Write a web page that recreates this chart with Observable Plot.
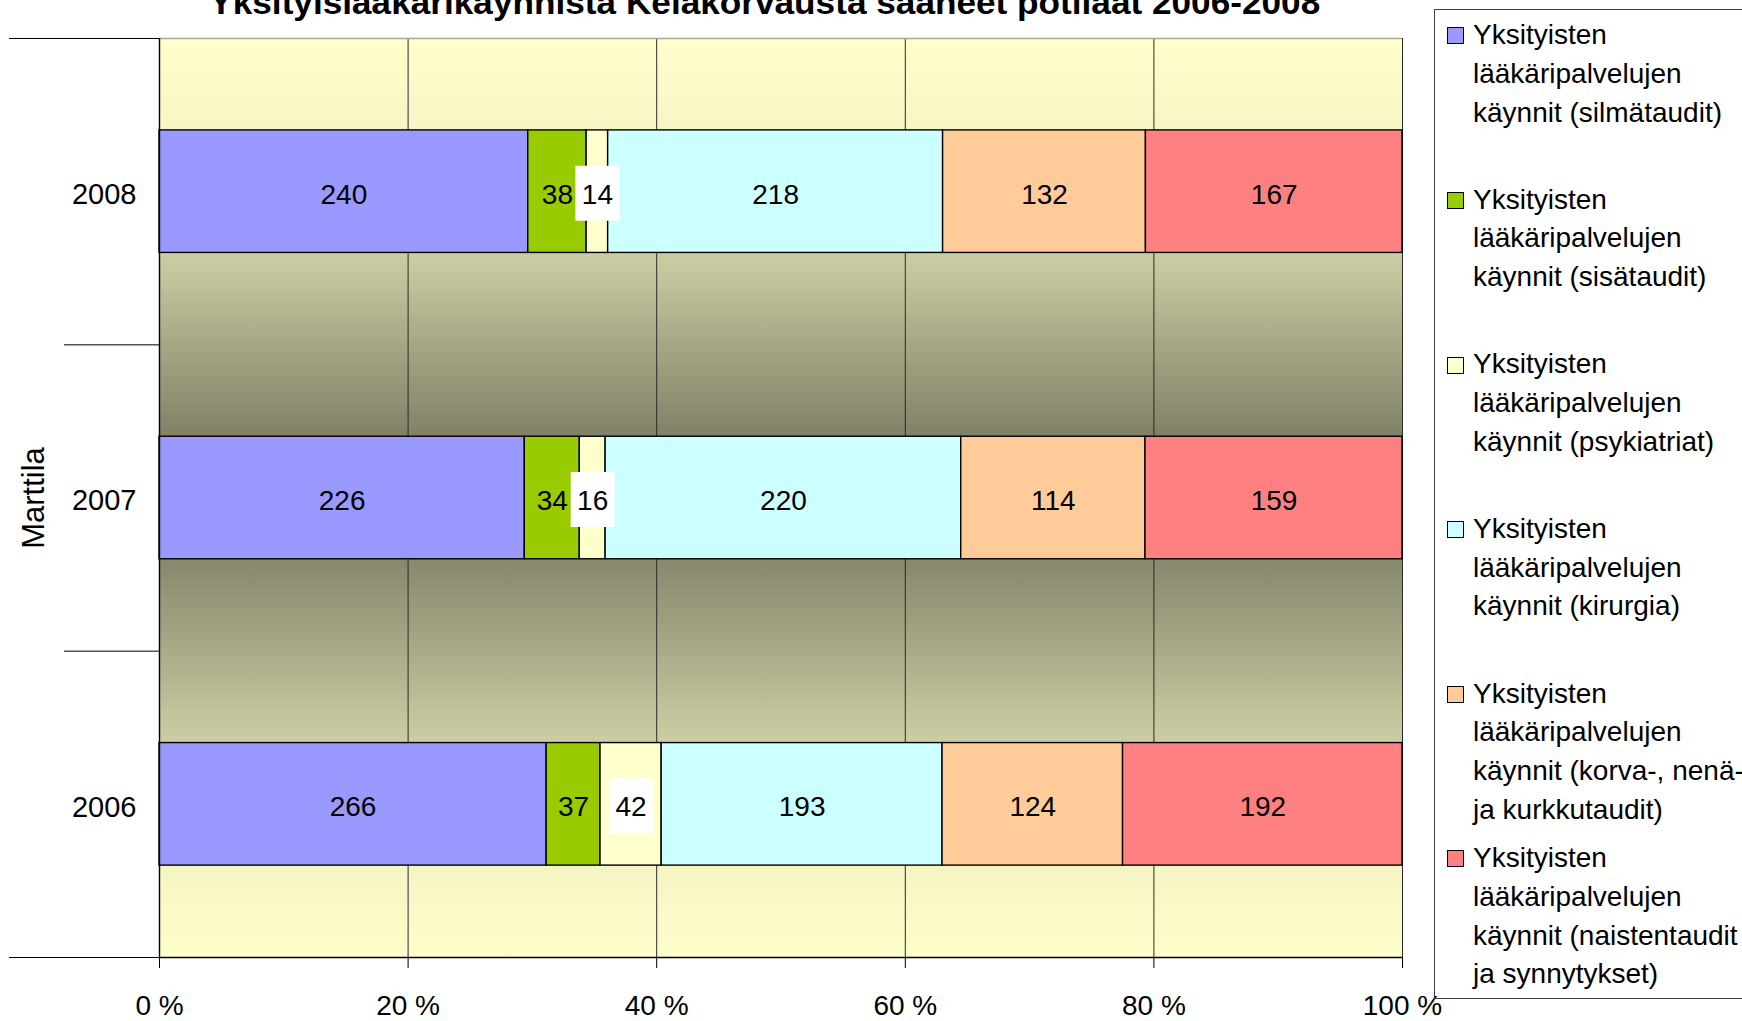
<!DOCTYPE html>
<html>
<head>
<meta charset="utf-8">
<script src="https://cdn.jsdelivr.net/npm/d3@7"></script>
<script src="https://cdn.jsdelivr.net/npm/@observablehq/plot@0.6"></script>
<style>
  html, body { margin: 0; padding: 0; background: #fff; }
  #wrap { position: relative; width: 1742px; height: 1021px; overflow: hidden; font-family: "Liberation Sans", Arial, sans-serif; }
  #title { position: absolute; left: 0; top: -15px; width: 1529px; text-align: center; font-size: 34px; line-height: 34px; font-weight: bold; white-space: nowrap; }
  #title span { display: inline-block; transform-origin: center; }
  #legend { position: absolute; left: 1434px; top: 9px; width: 400px; height: 990px; border: 1px solid #404040; border-right: none; box-sizing: border-box; }
  .item { position: absolute; left: 0; }
  .sw { position: absolute; left: 12px; width: 15px; height: 15px; border: 1px solid #000; }
  .lab { position: absolute; left: 38px; top: 0; font-size: 28px; line-height: 38.8px; white-space: pre; color: #000; }
  #chart { position: absolute; left: 0; top: 0; }
</style>
</head>
<body>
<div id="wrap">
  <div id="chart"></div>
  <div id="title"><span id="titleText"></span></div>
  <div id="legend"></div>
</div>
<script>
const title = "Yksityislääkärikäynnistä Kelakorvausta saaneet potilaat 2006-2008";
const groupLabel = "Marttila";
const years = [2008, 2007, 2006];
const seriesNames = [
  "Yksityisten lääkäripalvelujen käynnit (silmätaudit)",
  "Yksityisten lääkäripalvelujen käynnit (sisätaudit)",
  "Yksityisten lääkäripalvelujen käynnit (psykiatriat)",
  "Yksityisten lääkäripalvelujen käynnit (kirurgia)",
  "Yksityisten lääkäripalvelujen käynnit (korva-, nenä- ja kurkkutaudit)",
  "Yksityisten lääkäripalvelujen käynnit (naistentaudit ja synnytykset)"
];
const legendLines = [
  "Yksityisten\nlääkäripalvelujen\nkäynnit (silmätaudit)",
  "Yksityisten\nlääkäripalvelujen\nkäynnit (sisätaudit)",
  "Yksityisten\nlääkäripalvelujen\nkäynnit (psykiatriat)",
  "Yksityisten\nlääkäripalvelujen\nkäynnit (kirurgia)",
  "Yksityisten\nlääkäripalvelujen\nkäynnit (korva-, nenä-\nja kurkkutaudit)",
  "Yksityisten\nlääkäripalvelujen\nkäynnit (naistentaudit\nja synnytykset)"
];
const seriesColors = ["#9999FF", "#99CC00", "#FFFFCC", "#CCFFFF", "#FFCC99", "#FF8080"];
const values2008 = [240, 38, 14, 218, 132, 167];
const values2007 = [226, 34, 16, 220, 114, 159];
const values2006 = [266, 37, 42, 193, 124, 192];
const xTicks = [0, 0.2, 0.4, 0.6, 0.8, 1];

const valuesByYear = {2008: values2008, 2007: values2007, 2006: values2006};
const rows = [];
for (const y of years) {
  seriesNames.forEach((s, i) => rows.push({year: y, series: s, value: valuesByYear[y][i]}));
}
const half = 0.2;
const yMin = Math.min(...years) - 0.5, yMax = Math.max(...years) + 0.5;
const innerBounds = years.slice(0, -1).map(y => y - 0.5);
const outerBounds = [yMin, yMax];
const boxSymbol = { draw(ctx) { ctx.rect(-22, -28, 44, 55); } };
const stackOpts = {x: "value", z: "series", offset: "normalize"};

const svg = Plot.plot({
  width: 1742, height: 1021,
  marginLeft: 159, marginRight: 340, marginTop: 38, marginBottom: 64,
  style: {fontFamily: "'Liberation Sans', Arial, sans-serif", fontSize: "28px", background: "white", color: "black", overflow: "visible"},
  x: {domain: [0, 1]},
  y: {domain: [yMin, yMax]},
  color: {domain: seriesNames, range: seriesColors},
  opacity: {domain: [0, 1], range: [0, 1]},
  marks: [
    Plot.frame({fill: "url(#bgGrad)", stroke: null}),
    Plot.ruleX(xTicks.slice(1), {stroke: "#2a2a2a", strokeWidth: 1}),
    Plot.ruleY([yMax], {stroke: "#a8a890", strokeWidth: 1.5}),
    Plot.rectX(rows, Plot.stackX({...stackOpts, y1: d => d.year - half, y2: d => d.year + half, fill: "series", stroke: "black", strokeWidth: 1.4})),
    Plot.dot(rows, Plot.stackX({...stackOpts, y: "year", fill: "white", stroke: null, fillOpacity: d => d.series === seriesNames[2] ? 1 : 0, symbol: boxSymbol, r: 10, dy: 2})),
    Plot.text(rows, Plot.stackX({...stackOpts, y: "year", text: d => String(d.value), fontSize: 28, fill: "black", dy: 3})),
    Plot.ruleX([0], {stroke: "black", strokeWidth: 1.4}),
    Plot.ruleY([yMin], {stroke: "black", strokeWidth: 1.4}),
    Plot.axisX({ticks: xTicks, tickSize: 11, tickPadding: 27, tickFormat: d => `${Math.round(d * 100)} %`, fontSize: 28, label: null}),
    Plot.axisY({ticks: years, tickSize: 0, tickPadding: 23, tickFormat: d => String(d), fontSize: 29, dy: 3, label: null}),
    Plot.axisY({ticks: innerBounds, tickSize: 95, tickFormat: () => "", label: null}),
    Plot.axisY({ticks: outerBounds, tickSize: 150, tickFormat: () => "", label: null}),
    Plot.text([groupLabel], {frameAnchor: "left", textAnchor: "middle", dx: -125, rotate: -90, text: d => d, fontSize: 31, fill: "black"})
  ]
});

// background gradient for the plot area
const NS = "http://www.w3.org/2000/svg";
const defs = document.createElementNS(NS, "defs");
const grad = document.createElementNS(NS, "linearGradient");
grad.setAttribute("id", "bgGrad");
grad.setAttribute("x1", "0"); grad.setAttribute("y1", "0");
grad.setAttribute("x2", "0"); grad.setAttribute("y2", "1");
const stops = [[0, 255], [0.10, 246], [0.234, 205], [0.434, 128], [0.5, 120], [0.569, 136], [0.767, 206], [0.9, 245], [1, 254]];
for (const [o, r] of stops) {
  const st = document.createElementNS(NS, "stop");
  st.setAttribute("offset", o);
  st.setAttribute("stop-color", `rgb(${r},${r},${Math.round(r * 0.8)})`);
  grad.appendChild(st);
}
defs.appendChild(grad);
svg.insertBefore(defs, svg.firstChild);
document.getElementById("chart").appendChild(svg);

// title
const tt = document.getElementById("titleText");
tt.textContent = title;
const w = tt.getBoundingClientRect().width;
tt.style.transform = `scaleX(${1111 / w})`;

// legend
const legend = document.getElementById("legend");
legendLines.forEach((txt, i) => {
  const top = 35.5 + 164.6 * i - 10; // relative to legend box
  const item = document.createElement("div");
  item.className = "item";
  item.style.top = (top - 19.4) + "px";
  const sw = document.createElement("div");
  sw.className = "sw";
  sw.style.top = (19.4 - 8) + "px";
  sw.style.background = seriesColors[i];
  const lab = document.createElement("div");
  lab.className = "lab";
  lab.textContent = txt;
  item.appendChild(sw);
  item.appendChild(lab);
  legend.appendChild(item);
});
</script>
</body>
</html>
